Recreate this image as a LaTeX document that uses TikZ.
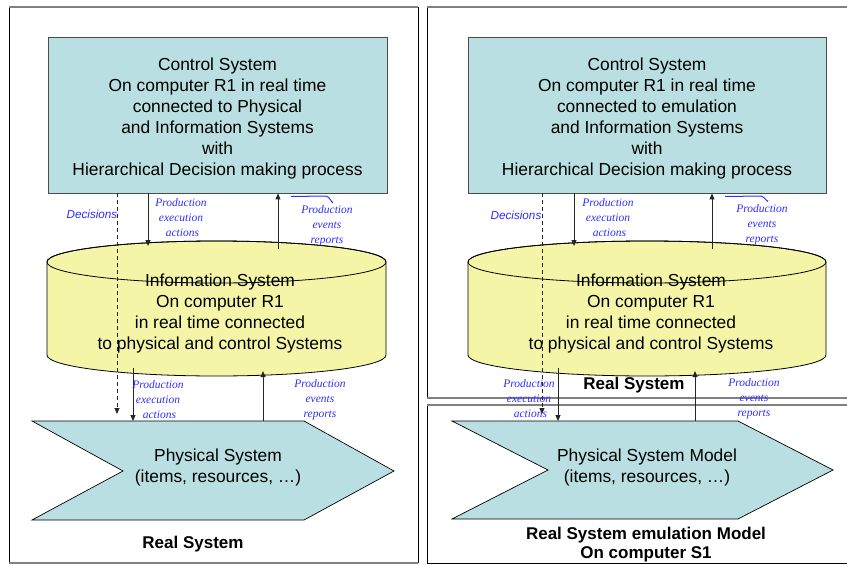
\documentclass[tikz,border=0pt]{standalone}
\usepackage{fontspec}
\setmainfont{Liberation Sans}
\newfontfamily\serifit{Liberation Serif}
\usetikzlibrary{arrows.meta}
\definecolor{ctrlfill}{RGB}{185,223,226}
\definecolor{cylfill}{RGB}{244,245,166}
\definecolor{labblue}{RGB}{45,45,255}
\definecolor{framegray}{RGB}{128,128,128}
\tikzset{
  ctrl/.style={draw=black!70, line width=0.8pt, fill=ctrlfill, minimum width=339pt, minimum height=156pt, inner sep=0pt},
  bigtext/.style={align=center, inner sep=0pt, font=\fontsize{17.4}{21}\selectfont},
  cylshape/.style={fill=cylfill, draw=black, line width=0.8pt},
  physshape/.style={fill=ctrlfill, draw=black, line width=0.7pt},
  lab/.style={align=center, inner sep=0pt, text=labblue, font=\serifit\itshape\fontsize{11.5}{15}\selectfont},
  declab/.style={inner sep=0pt, text=labblue, font=\itshape\fontsize{11.7}{14}\selectfont},
  titlelab/.style={align=center, inner sep=0pt, font=\bfseries\fontsize{17}{19}\selectfont},
  conn/.style={line width=1pt, black!85, -{Triangle[length=6pt,width=5pt]}},
  decconn/.style={conn, dash pattern=on 4pt off 3pt},
  bracket/.style={labblue, line width=1pt},
  frameside/.style={black, line width=0.8pt},
  frametop/.style={framegray, line width=1.8pt}
}
\begin{document}
\begin{tikzpicture}[x=1pt,y=-1pt]
\useasboundingbox (0,0) rectangle (847,565);
% ---------- frames ----------
\draw[frameside] (9,7) -- (9,563);
\draw[frameside] (418,7) -- (418,563);
\draw[frametop] (9,7) -- (418,7);
\draw[frametop] (9,563) -- (418,563);
\draw[frameside] (427,7) -- (427,398);
\draw[frametop] (427,7) -- (847,7);
\draw[frametop] (427,398) -- (847,398);
\draw[frameside] (427,405) -- (427,563);
\draw[frametop] (427,405) -- (847,405);
\draw[frameside] (427,563) -- (847,563);

% ================= LEFT =================
\node[ctrl] (ctrlL) at (217.5,115) {};
\node[bigtext] (ctrlLtxt) at (217.5,118) {Control System\\On computer R1 in real time\\connected to Physical\\and Information Systems\\with\\Hierarchical Decision making process};
% cylinder
\path[cylshape] (47,262) -- (47,355) arc[start angle=180,end angle=0,x radius=169.5,y radius=21] -- (386,262) arc[start angle=0,end angle=-180,x radius=169.5,y radius=21] -- cycle;
\draw[line width=0.8pt] (216.5,262) ellipse[x radius=169.5,y radius=21];
\node[bigtext] (infoL) at (220,313) {Information System\\On computer R1\\in real time connected\\to physical and control Systems};
% physical chevron
\path[physshape] (32,421) -- (304,421) -- (394,471) -- (304,520) -- (32,520) -- (123,471) -- cycle;
\node[bigtext] (physL) at (218,467) {Physical System\\(items, resources, \dots)};
\node[titlelab] (realL) at (193,544) {Real System};

% connectors left
\coordinate (decLend) at (117,414);
\draw[decconn] (ctrlL.south -| decLend) -- (decLend);
\coordinate (cylLtopA) at (148,246);
\draw[conn] (ctrlL.south -| cylLtopA) -- (cylLtopA);
\coordinate (cylLtopB) at (278,249);
\draw[conn] (cylLtopB) -- (cylLtopB |- ctrlL.south);
\coordinate (cylLbotA) at (133,368);
\coordinate (physLtopA) at (133,421);
\draw[conn] (cylLbotA) -- (physLtopA);
\coordinate (physLtopB) at (263,421);
\coordinate (cylLbotB) at (263,371);
\draw[conn] (physLtopB) -- (cylLbotB);

% labels left
\node[declab] (decLlab) at (92,214) {Decisions};
\node[lab] (peaL1) at (181,218) {Production\\execution\\\ actions};
\node[lab] (perL1) at (327,226) {Production\\events\\reports};
\node[lab] (peaL2) at (158,400) {Production\\execution\\\ actions};
\node[lab] (perL2) at (320,400) {Production\\events\\reports};
\draw[bracket] (291,196.5) -- (326,196) to[out=0,in=-90] (333,202);

% ================= RIGHT =================
\node[ctrl, minimum width=358pt] (ctrlR) at (647,115) {};
\node[bigtext] (ctrlRtxt) at (647,118) {Control System\\On computer R1 in real time\\connected to emulation\\and Information Systems\\with\\Hierarchical Decision making process};
\path[cylshape] (468,262) -- (468,355) arc[start angle=180,end angle=0,x radius=179,y radius=21] -- (826,262) arc[start angle=0,end angle=-180,x radius=179,y radius=21] -- cycle;
\draw[line width=0.8pt] (647,262) ellipse[x radius=179,y radius=21];
\node[bigtext] (infoR) at (651,313) {Information System\\On computer R1\\in real time connected\\to physical and control Systems};
\node[titlelab] (realR) at (634,385) {Real System};
\path[physshape] (452,421) -- (738,421) -- (833,470) -- (738,519) -- (452,519) -- (548,470) -- cycle;
\node[bigtext] (physR) at (647,467) {Physical System Model\\(items, resources, \dots)};
\node[titlelab] (emuR) at (646,545) {Real System emulation Model\\On computer S1};

% connectors right
\coordinate (decRend) at (542,414);
\draw[decconn] (ctrlR.south -| decRend) -- (decRend);
\coordinate (cylRtopA) at (574,246);
\draw[conn] (ctrlR.south -| cylRtopA) -- (cylRtopA);
\coordinate (cylRtopB) at (712,249);
\draw[conn] (cylRtopB) -- (cylRtopB |- ctrlR.south);
\coordinate (cylRbotA) at (558,368);
\coordinate (physRtopA) at (558,421);
\draw[conn] (cylRbotA) -- (physRtopA);
\coordinate (physRtopB) at (695,421);
\coordinate (cylRbotB) at (695,371);
\draw[conn] (physRtopB) -- (cylRbotB);

% labels right
\node[declab] (decRlab) at (516,215) {Decisions};
\node[lab] (peaR1) at (608,218) {Production\\execution\\\ actions};
\node[lab] (perR1) at (762,225) {Production\\events\\reports};
\node[lab] (peaR2) at (529,399) {Production\\execution\\\ actions};
\node[lab] (perR2) at (754,399) {Production\\events\\reports};
\draw[bracket] (725,196.5) -- (761,196) to[out=0,in=-90] (768,200.5);
\end{tikzpicture}
\end{document}
